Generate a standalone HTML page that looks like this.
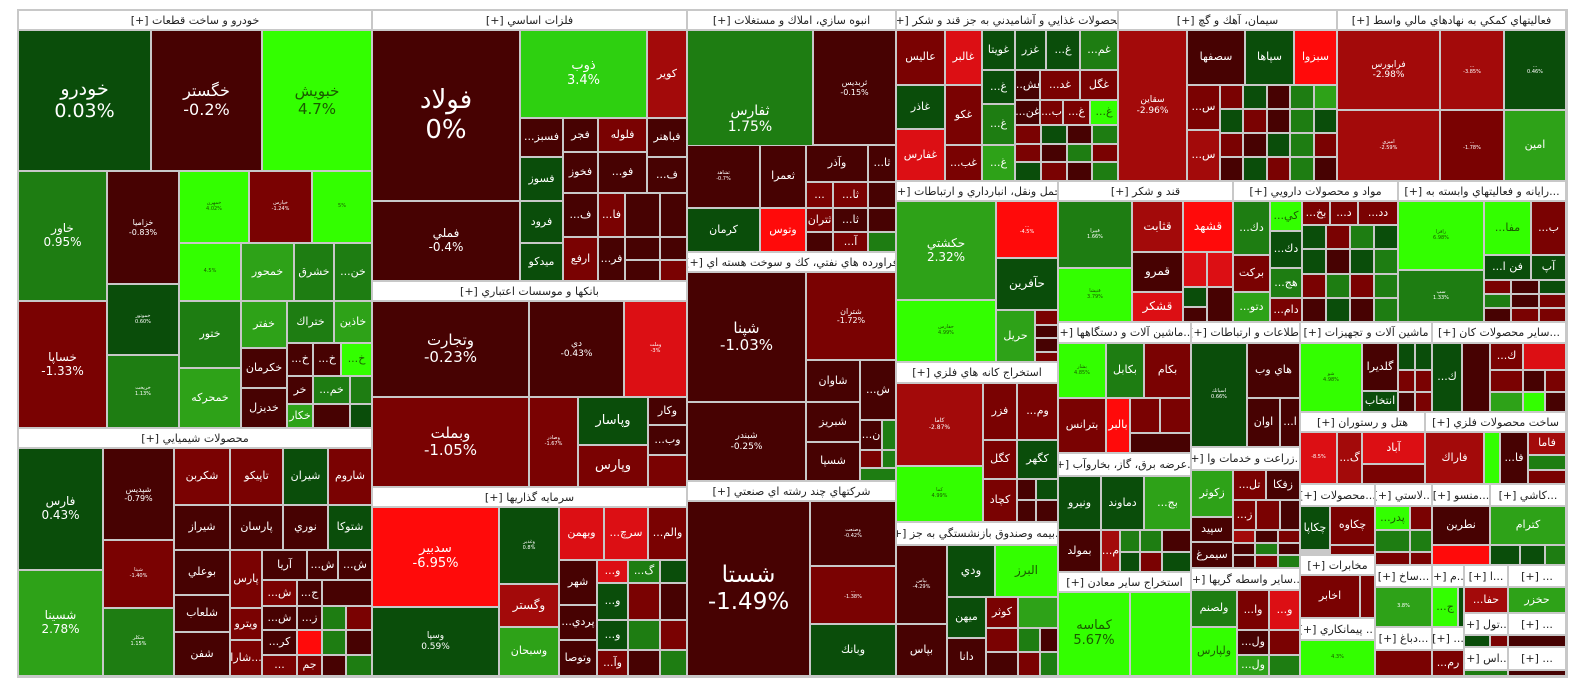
<!DOCTYPE html>
<html><head><meta charset="utf-8">
<style>
html,body{margin:0;padding:0;background:#fff;}
#m{position:relative;width:1584px;height:698px;overflow:hidden;background:#fff;}
.c{position:absolute;box-sizing:border-box;border:1px solid #c8c8c8;color:#fff;display:flex;flex-direction:column;align-items:center;justify-content:center;text-align:center;font-family:"DejaVu Sans","Liberation Sans",sans-serif;overflow:hidden;line-height:1.15;white-space:nowrap;}
.h{position:absolute;box-sizing:border-box;background:#fff;border:1px solid #c8c8c8;color:#222;font-family:"DejaVu Sans","Liberation Sans",sans-serif;font-size:11px;display:flex;align-items:center;justify-content:center;overflow:hidden;white-space:nowrap;direction:rtl;}
</style></head><body>
<div id="m"></div>
<script>
var DG='#0a4d0a',G='#1e7d12',MG='#2ea218',BG='#33ff00',DR='#470202',R='#7a0202',RR='#a30a0a',BR='#ff0a0a',LR='#dc0f14';
var m=document.getElementById('m');
var bg=document.createElement('div');bg.style.cssText='position:absolute;left:17px;top:9px;width:1551px;height:669px;background:#c8c8c8';m.appendChild(bg);
function H(a,b,c,d,t){var e=document.createElement('div');e.className='h';e.style.cssText+='left:'+a+'px;top:'+b+'px;width:'+(c-a)+'px;height:'+(d-b)+'px';e.textContent=t+' [+]';m.appendChild(e);}
function C(a,b,c,d,col,t,p,s){var e=document.createElement('div');e.className='c';e.style.cssText+='left:'+a+'px;top:'+b+'px;width:'+(c-a)+'px;height:'+(d-b)+'px;background:'+col+';font-size:'+(s||11)+'px';
if(col==BG){e.style.color='#1a5a00';}
if(t){var x=document.createElement('div');x.textContent=t;e.appendChild(x);}
if(p){var y=document.createElement('div');y.textContent=p;e.appendChild(y);}
m.appendChild(e);}
function GRID(a,b,c,d,cols,rows,pal){var w=(c-a)/cols,h=(d-b)/rows,k=0;for(var i=0;i<rows;i++)for(var j=0;j<cols;j++){C(Math.round(a+j*w),Math.round(b+i*h),Math.round(a+(j+1)*w),Math.round(b+(i+1)*h),pal[k%pal.length]);k++;}}
// Col1
H(18,10,372,30,'خودرو و ساخت قطعات');
C(18,30,151,171,DG,'خودرو','0.03%',19);
C(151,30,262,171,DR,'خگستر','-0.2%',16);
C(262,30,372,171,BG,'خبويش','4.7%',15);
C(18,171,107,301,G,'خاور','0.95%',12);
C(18,301,107,428,R,'خساپا','-1.33%',12);
C(107,171,179,284,DR,'خزاميا','-0.83%',8);
C(107,284,179,355,DG,'خموتور','0.60%',5);
C(107,355,179,428,G,'خريخت','1.13%',5);
C(179,171,249,243,BG,'خمهرن','4.02%',5);
C(249,171,312,243,R,'خپارس','-1.24%',5);
C(312,171,372,243,BG,'',  '5%',5);
C(179,243,241,301,BG,'','4.5%',5);
C(241,243,294,301,MG,'خمحور');
C(294,243,334,301,G,'خشرق');
C(334,243,372,301,G,'...خن');
C(179,301,241,368,G,'ختور');
C(179,368,241,428,MG,'خمحرکه');
C(241,301,287,348,MG,'خفتر');
C(241,348,287,388,DR,'خكرمان');
C(241,388,287,428,DR,'خديزل');
C(287,301,334,343,G,'ختراك');
C(334,301,372,343,MG,'خاذين');
C(287,343,313,376,DR,'...خ');C(313,343,341,376,DR,'...خ');C(341,343,372,376,BG,'...خ');
C(287,376,313,404,DR,'خر');C(313,376,350,404,G,'...خم');C(350,376,372,404,G);
C(287,404,313,428,MG,'خكار');C(313,404,350,428,DR);C(350,404,372,428,DG);
H(18,428,372,448,'محصولات شيميايي');
C(18,448,103,570,DG,'فارس','0.43%',12);
C(18,570,103,676,MG,'شسينا','2.78%',12);
C(103,448,174,540,DR,'شپديس','-0.79%',8);
C(103,540,174,608,R,'شپنا','-1.40%',5);
C(103,608,174,676,G,'شكلر','1.15%',5);
C(174,448,230,505,R,'شكربن');C(230,448,283,505,R,'تاپيكو');C(283,448,328,505,DG,'شيران');C(328,448,372,505,R,'شاروم');
C(174,505,230,550,DR,'شيراز');C(230,505,283,550,DR,'پارسان');C(283,505,328,550,DR,'نوري');C(328,505,372,550,DG,'شتوكا');
C(174,550,230,595,DR,'بوعلي');C(174,595,230,632,DR,'شلعاب');C(174,632,230,676,DR,'شفن');
C(230,550,262,608,R,'پارس');C(262,550,307,580,DR,'آريا');C(307,550,338,580,DR,'...ش');C(338,550,372,580,DR,'...ش');
C(230,608,262,640,R,'ويترو');C(230,640,262,676,R,'شارا...');
C(262,580,297,606,R,'...ش');C(297,580,322,606,DR,'...ج');C(322,580,372,606,DR);
C(262,606,297,630,DR,'...ش');C(297,606,322,630,DR,'...ز');C(322,606,346,630,G);C(346,606,372,630,R);
C(262,630,297,655,DR,'...كر');C(297,630,322,655,BR);C(322,630,346,655,G);C(346,630,372,655,DR);
C(262,655,297,676,R,'...');C(297,655,322,676,R,'جم');C(322,655,346,676,DR);C(346,655,372,676,G);
// Col2
H(372,10,687,30,'فلزات اساسي');
C(372,30,520,201,DR,'فولاد','0%',26);
C(372,201,520,281,DR,'فملي','-0.4%',12);
C(520,30,647,118,'#2ed010','ذوب','3.4%',13);
C(647,30,687,118,RR,'كوير');
C(520,118,563,157,DR,'...فسبز');C(520,157,563,201,DG,'فسوز');C(520,201,563,243,DG,'فرود');C(520,243,563,281,DG,'ميدكو');
C(563,118,598,152,DR,'فجر');C(598,118,647,152,R,'فلوله');C(647,118,687,157,DR,'فباهنر');
C(563,152,598,193,DR,'فخوز');C(598,152,647,193,DR,'...فو');C(647,157,687,193,DR,'...ف');
C(563,193,598,237,DR,'...ف');C(598,193,625,237,R,'...فا');C(625,193,660,237,DR);C(660,193,687,237,DR);
C(563,237,598,281,R,'ارفع');C(598,237,625,281,DR,'...فر');C(625,237,660,260,DR);C(660,237,687,260,DR);C(625,260,660,281,DR);C(660,260,687,281,R);
H(372,281,687,301,'بانکها و موسسات اعتباري');
C(372,301,529,397,DR,'وتجارت','-0.23%',15);
C(372,397,529,487,R,'وبملت','-1.05%',15);
C(529,301,624,397,DR,'دي','-0.43%',9);
C(624,301,687,397,LR,'وملت','-3%',5);
C(529,397,578,487,R,'وصادر','-1.67%',5);
C(578,397,648,445,DG,'وپاسار',null,13);
C(648,397,687,425,DR,'وكار');C(648,425,687,455,DR,'...وب');C(648,455,687,487,R);
C(578,445,648,487,R,'وپارس',null,13);
H(372,487,687,507,'سرمايه گذاريها');
C(372,507,499,607,BR,'سدبير','-6.95%',13);
C(372,607,499,676,DG,'وسپا','0.59%',9);
C(499,507,559,584,DG,'وغدير','0.8%',5);
C(499,584,559,627,RR,'وگستر',null,12);
C(499,627,559,676,MG,'وسبحان');
C(559,507,604,560,LR,'وبهمن');C(604,507,648,560,LR,'...سرچ');C(648,507,687,560,R,'...والم');
C(559,560,597,605,DR,'شهر');C(597,560,628,583,LR,'...و');C(628,560,660,583,G,'...گ');C(660,560,687,583,DG);
C(559,605,597,640,DR,'...پردي');C(559,640,597,676,DR,'وتوصا');
C(597,583,628,620,DG,'...و');C(628,583,660,620,R);C(660,583,687,620,DR);
C(597,620,628,650,DG,'...و');C(628,620,660,650,G);C(660,620,687,650,R);
C(597,650,628,676,R,'...وآ');C(628,650,660,676,DR);C(660,650,687,676,G);
// Col3
H(687,10,896,30,'انبوه سازي، املاك و مستغلات');
C(687,30,813,208,G,'ثفارس','1.75%',14);
C(813,30,896,145,DR,'ثربديس','-0.15%',8);
C(687,145,760,208,DR,'ثشاهد','-0.7%',5);C(760,145,806,208,DR,'ثعمرا');C(806,145,868,182,DR,'وآذر');C(868,145,896,182,DR,'...ثا');
C(806,182,833,208,R,'...');C(833,182,868,208,R,'...ثا');C(868,182,896,208,DR);
C(687,208,760,252,DG,'كرمان');C(760,208,806,252,BR,'وتوس');C(806,208,833,232,R,'ثتران');C(833,208,868,232,DR,'...ثا');C(868,208,896,232,DR);
C(806,232,833,252,DR);C(833,232,868,252,R,'...آ');C(868,232,896,252,G);
H(687,252,896,272,'فراورده هاي نفتي، كك و سوخت هسته اي');
C(687,272,806,402,DR,'شپنا','-1.03%',15);
C(687,402,806,481,DR,'شبندر','-0.25%',9);
C(806,272,896,360,R,'شتران','-1.72%',8);
C(806,360,860,402,DR,'شاوان');C(860,360,896,420,DR,'...ش');
C(806,402,860,442,DR,'شبريز');C(806,442,860,481,DR,'شسپا');
C(860,420,882,450,DR,'...ن');C(882,420,896,450,G);C(860,450,882,468,R);C(882,450,896,468,G);C(860,468,896,481,G);
H(687,481,896,501,'شركتهاي چند رشته اي صنعتي');
C(687,501,810,676,DR,'شستا','-1.49%',23);
C(810,501,896,566,DR,'وصنعت','-0.42%',5);
C(810,566,896,624,R,'...','-1.38%',5);
C(810,624,896,676,DG,'وبانك');
// Col4 top
H(896,10,1118,30,'محصولات غذايي و آشاميدني به جز قند و شكر');
C(896,30,945,85,R,'عاليس');C(945,30,982,85,LR,'غالبر');C(982,30,1015,70,DG,'غويتا');C(1015,30,1046,70,DG,'غزر');C(1046,30,1080,70,DG,'...غ');C(1080,30,1118,70,G,'...غم');
C(896,85,945,129,DG,'غاذر');C(896,129,945,181,LR,'غفارس');
C(945,85,982,145,R,'غكو');C(945,145,982,181,R,'...غب');
C(982,70,1015,104,DG,'...غ');C(982,104,1015,145,G,'...غ');C(982,145,1015,181,MG,'...غ');
C(1015,70,1040,100,DR,'...غش');C(1040,70,1080,100,R,'...غد');C(1080,70,1118,100,R,'غگل');
C(1015,100,1040,125,DR,'...غن');C(1040,100,1063,125,R,'...ب');C(1063,100,1090,125,R,'...غ');C(1090,100,1118,125,BG,'...غ');
GRID(1015,125,1118,181,4,3,[R,DG,DR,G,R,DR,G,R,DG,R,DR,G]);
H(1118,10,1337,30,'سيمان، آهك و گچ');
C(1118,30,1187,181,RR,'سقاين','-2.96%',9);
C(1187,30,1245,85,DR,'سصفها');C(1245,30,1294,85,DG,'سپاها');C(1294,30,1337,85,BR,'سبزوا');
C(1187,85,1220,130,R,'...س');C(1187,130,1220,181,RR,'...س');
GRID(1220,85,1337,181,5,4,[R,DG,DR,G,MG,DG,R,DR,G,DG,R,DR,DG,G,R,DR,DG,R,G,DR]);
H(1337,10,1566,30,'فعاليتهاي كمكي به نهادهاي مالي واسط');
C(1337,30,1440,110,RR,'فرابورس','-2.98%',9);C(1440,30,1504,110,RR,'...','-3.85%',5);C(1504,30,1566,110,DG,'...','0.46%',5);
C(1337,110,1440,181,RR,'اميزي','-2.59%',5);C(1440,110,1504,181,R,'...','-1.78%',5);C(1504,110,1566,181,MG,'امين',null,11);
// row 2
H(896,181,1058,201,'حمل ونقل، انبارداري و ارتباطات');
C(896,201,996,300,MG,'حكشتي','2.32%',12);
C(996,201,1058,258,BR,'...','-4.5%',5);
C(996,258,1058,310,DG,'حآفرين',null,12);
C(896,300,996,362,BG,'حفارس','4.99%',5);
C(996,310,1035,362,MG,'حريل');
C(1035,310,1058,325,R);C(1035,325,1058,338,DR);C(1035,338,1058,352,DR);C(1035,352,1058,362,R);
H(896,362,1058,383,'استخراج كانه هاي فلزي');
C(896,383,983,466,RR,'كاما','-2.87%',6);C(983,383,1017,440,R,'فزر');C(1017,383,1058,440,R,'...وم');
C(896,466,983,522,BG,'كما','4.99%',5);C(983,440,1017,479,R,'كگل');C(1017,440,1058,479,DG,'كگهر');
C(983,479,1017,522,R,'كچاد');C(1017,479,1036,500,DR);C(1036,479,1058,500,DG);C(1017,500,1036,522,DR);C(1036,500,1058,522,DR);
H(896,522,1058,545,'...بيمه وصندوق بازنشستگي به جز');
C(896,545,947,624,DR,'بپاس','-4.29%',5);C(896,624,947,676,DR,'بپاس');
C(947,545,995,597,DG,'ودي',null,12);C(995,545,1058,597,BG,'البرز',null,12);
C(947,597,986,638,DG,'ميهن');C(986,597,1018,628,R,'كوثر');C(1018,597,1058,628,MG);
C(947,638,986,676,DR,'دانا');C(986,628,1018,652,R);C(1018,628,1040,652,G);C(1040,628,1058,652,DR);C(986,652,1018,676,DR);C(1018,652,1040,676,R);C(1040,652,1058,676,G);
H(1058,181,1233,201,'قند و شكر');
C(1058,201,1132,268,G,'قپيرا','1.66%',5);C(1058,268,1132,322,BG,'قنيشا','3.79%',5);
C(1132,201,1183,252,RR,'قثابت',null,12);C(1183,201,1233,252,BR,'قشهد',null,12);
C(1132,252,1183,292,DR,'قمرو',null,12);C(1132,292,1183,322,LR,'قشكر',null,12);
C(1183,252,1207,287,LR);C(1207,252,1233,287,LR);C(1183,287,1207,307,DG);C(1207,287,1233,322,DR);C(1183,307,1207,322,DR);
H(1058,322,1191,343,'...ماشين آلات و دستگاهها');
C(1058,343,1106,398,BG,'بشار','4.85%',5);C(1106,343,1144,398,G,'بكابل');C(1144,343,1191,398,R,'بكام');
C(1058,398,1106,453,R,'بترانس');C(1106,398,1130,453,BR,'بالبر');C(1130,398,1160,433,R);C(1160,398,1191,433,R);C(1130,433,1191,453,DR);
H(1058,453,1191,476,'...عرضه برق، گاز، بخاروآب');
C(1058,476,1101,530,DG,'ونيرو');C(1101,476,1144,530,DG,'دماوند');C(1144,476,1191,530,MG,'...بج');
C(1058,530,1101,572,DR,'بمولد');C(1101,530,1120,572,RR,'...م');C(1120,530,1140,552,G);C(1140,530,1162,552,G);C(1162,530,1191,552,DR);C(1120,552,1140,572,DG);C(1140,552,1162,572,R);C(1162,552,1191,572,DG);
H(1058,572,1191,592,'استخراج ساير معادن');
C(1058,592,1130,676,BG,'كماسه','5.67%',13);C(1130,592,1191,676,BG);
H(1233,181,1398,201,'مواد و محصولات دارويي');
C(1233,201,1270,255,G,'...دك');C(1270,201,1302,231,BG,'...كي');C(1302,201,1330,225,R,'...بخ');C(1330,201,1358,225,R,'...د');C(1358,201,1398,225,R,'...دد');
C(1270,231,1302,268,DG,'...دك');C(1233,255,1270,292,R,'بركت');C(1233,292,1270,322,MG,'...دتو');
C(1270,268,1302,298,G,'...هج');C(1270,298,1302,322,R,'...دام');
GRID(1302,225,1398,322,4,4,[DG,R,G,DG,DG,DR,DG,G,R,G,R,G,DR,DG,DR,G]);
H(1398,181,1566,201,'...رايانه و فعاليتهاي وابسته به');
C(1398,201,1484,270,BG,'رافزا','6.98%',5);C(1484,201,1531,255,BG,'...مفا');C(1531,201,1566,255,R,'...ب');
C(1398,270,1484,322,G,'سپ','1.33%',5);C(1484,255,1531,280,DG,'...فن ا');C(1531,255,1566,280,DG,'آپ');
GRID(1484,280,1566,322,3,3,[R,DR,DG,G,DR,R,DR,R,R]);
H(1191,322,1300,343,'اطلاعات و ارتباطات');
C(1191,343,1247,447,DG,'اسياتك','0.66%',5);C(1247,343,1300,398,DR,'هاي وب');C(1247,398,1280,447,DR,'اوان');C(1280,398,1300,447,DR,'...ا');
H(1191,447,1300,470,'...زراعت و خدمات وا');
C(1191,470,1233,517,MG,'زكوثر');C(1233,470,1266,500,R,'...تل');C(1266,470,1300,500,DR,'زفكا');
C(1191,517,1233,542,DR,'سپيد');C(1191,542,1233,568,DR,'سيمرغ');C(1233,500,1256,530,R,'...ز');C(1256,500,1280,530,R);C(1280,500,1300,530,DR);
GRID(1233,530,1300,568,3,3,[RR,DR,R,DR,G,DR,DR,R,G]);
H(1191,568,1300,590,'...ساير واسطه گريها');
C(1191,590,1237,627,G,'ولصنم');C(1191,627,1237,676,BG,'ولپارس');C(1237,590,1269,630,R,'...وا');C(1269,590,1300,630,LR,'...و');
C(1237,630,1269,655,DR,'...ول');C(1237,655,1269,676,MG,'...ول');C(1269,630,1300,655,R);C(1269,655,1300,676,G);
H(1300,322,1432,343,'ماشين آلات و تجهيزات');
C(1300,343,1362,412,BG,'شو','4.98%',5);C(1362,343,1398,391,DR,'گلديرا');C(1362,391,1398,412,DG,'انتخاب');
C(1398,343,1415,370,DG);C(1415,343,1432,370,DG);C(1398,370,1415,392,R);C(1415,370,1432,392,R);C(1398,392,1415,412,DR);C(1415,392,1432,412,R);
H(1432,322,1566,343,'...ساير محصولات كان');
C(1432,343,1462,412,DG,'...ك');C(1462,343,1490,412,DR);C(1490,343,1523,370,R,'...ك');C(1523,343,1566,370,LR);
C(1490,370,1523,392,R);C(1523,370,1545,392,DR);C(1545,370,1566,392,R);C(1490,392,1523,412,MG);C(1523,392,1545,412,BG);C(1545,392,1566,412,DR);
H(1300,412,1425,432,'هتل و رستوران');
C(1300,432,1337,484,LR,'','-8.5%',5);C(1337,432,1362,484,RR,'...گ');C(1362,432,1425,464,LR,'آباد');C(1362,464,1425,484,R);
H(1425,412,1566,432,'ساخت محصولات فلزي');
C(1425,432,1484,484,RR,'فاراك');C(1484,432,1500,484,BG);C(1500,432,1528,484,DR,'...فا');C(1528,432,1566,455,RR,'فاما');C(1528,455,1566,470,G);C(1528,470,1566,484,R);
H(1300,484,1375,506,'...محصولات');
C(1300,506,1330,550,DG,'چكاپا');C(1330,506,1375,545,R,'چكاوه');C(1330,545,1375,555,R);
H(1300,555,1375,575,'مخابرات');
C(1300,575,1360,618,R,'اخابر');C(1360,575,1375,618,R);
H(1300,618,1375,640,'... پيمانكاري');
C(1300,640,1375,676,BG,'','4.3%',5);
H(1375,484,1432,506,'...لاستي');
C(1375,506,1410,530,BG,'...پدر');C(1410,506,1432,530,R);C(1375,530,1410,552,G);C(1410,530,1432,552,G);C(1375,552,1410,565,R);C(1410,552,1432,565,R);
H(1375,565,1432,587,'...ساخ');
C(1375,587,1432,627,MG,'','3.8%',5);
H(1375,627,1432,650,'...دباغ');
C(1375,650,1432,676,R);
H(1432,484,1490,506,'...منسو');
C(1432,506,1490,545,DR,'نطرين');C(1432,545,1490,565,BR);
H(1490,484,1566,506,'...كاشي');
C(1490,506,1566,545,MG,'كترام');C(1490,545,1520,565,DG);C(1520,545,1545,565,DG);C(1545,545,1566,565,G);
H(1432,565,1464,587,'...م');C(1432,587,1458,627,BG,'...ج');C(1458,587,1464,627,DG);
H(1464,565,1508,587,'...ا');C(1464,587,1508,613,RR,'...حفا');
H(1508,565,1566,587,'...');C(1508,587,1566,613,MG,'حخزر');
H(1464,613,1508,635,'...تول');C(1464,635,1490,647,DG);C(1490,635,1508,647,R);
H(1508,613,1566,635,'...');C(1508,635,1566,647,DR);
H(1432,627,1464,650,'...');C(1432,650,1464,676,R,'...رم');
H(1464,647,1508,670,'...اس');C(1464,670,1508,676,G);
H(1508,647,1566,670,'...');C(1508,670,1566,676,DR);
</script>
</body></html>
